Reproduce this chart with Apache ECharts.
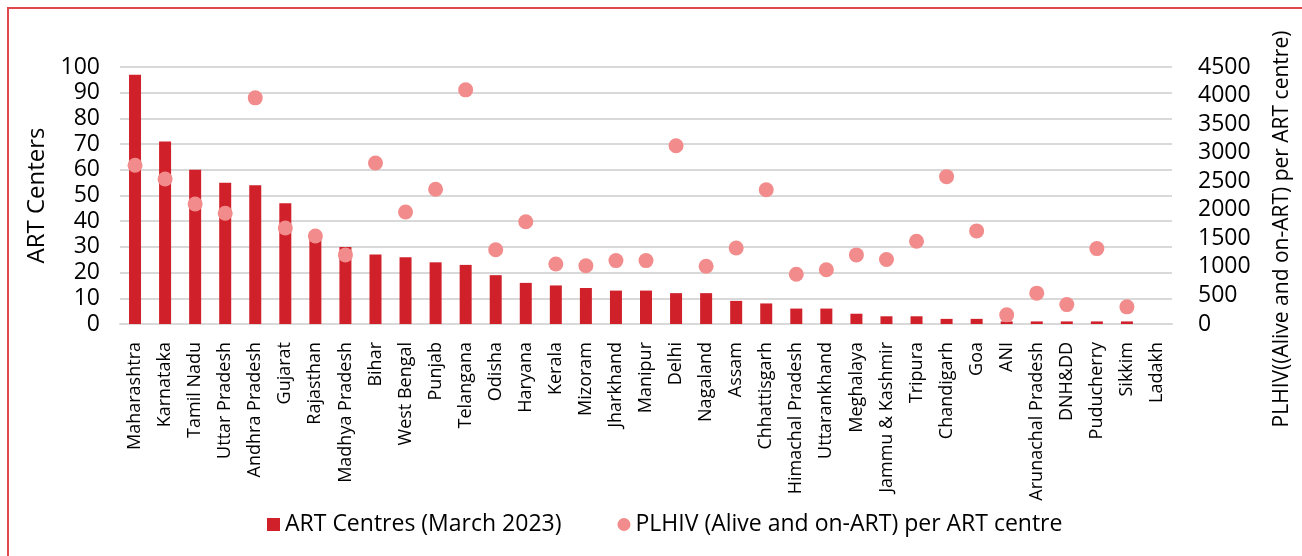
<!DOCTYPE html>
<html>
<head>
<meta charset="utf-8">
<script src="https://cdn.jsdelivr.net/npm/echarts@6/dist/echarts.min.js"></script>
<style>
  html, body { margin: 0; padding: 0; background: #fff; }
  #frame { position: absolute; left: 7px; top: 7px; width: 1310px; height: 560px;
           border-left: 2px solid #E0474F; border-top: 2px solid #E0474F; box-sizing: border-box; }
  #chart { position: absolute; left: 0; top: 0; width: 1302px; height: 556px; }
</style>
</head>
<body>
<div id="frame"></div>
<div id="chart"></div>
<script>
// States / UTs in descending order of ART centres
const states = ['Maharashtra', 'Karnataka', 'Tamil Nadu', 'Uttar Pradesh', 'Andhra Pradesh', 'Gujarat',
  'Rajasthan', 'Madhya Pradesh', 'Bihar', 'West Bengal', 'Punjab', 'Telangana', 'Odisha', 'Haryana',
  'Kerala', 'Mizoram', 'Jharkhand', 'Manipur', 'Delhi', 'Nagaland', 'Assam', 'Chhattisgarh',
  'Himachal Pradesh', 'Uttarankhand', 'Meghalaya', 'Jammu & Kashmir', 'Tripura', 'Chandigarh', 'Goa',
  'ANI', 'Arunachal Pradesh', 'DNH&DD', 'Puducherry', 'Sikkim', 'Ladakh'];

// Number of ART centres, March 2023
const artCentres = [97, 71, 60, 55, 54, 47, 35, 30, 27, 26, 24, 23, 19, 16, 15, 14, 13, 13, 12, 12,
  9, 8, 6, 6, 4, 3, 3, 2, 2, 1, 1, 1, 1, 1, 0];

// PLHIV (alive and on ART) per ART centre
const plhivPerCentre = [2780, 2540, 2100, 1940, 3960, 1680, 1540, 1210, 2820, 1960, 2360, 4100, 1300,
  1790, 1050, 1020, 1110, 1110, 3120, 1010, 1330, 2350, 870, 950, 1210, 1130, 1450, 2580, 1630,
  160, 540, 340, 1320, 300, null];

const leftTicks = { min: 0, max: 100, interval: 10 };
const rightTicks = { min: 0, max: 4500, interval: 500 };

const FONT = '"Open Sans", "Noto Sans", sans-serif';
const chart = echarts.init(document.getElementById('chart'), null, { renderer: 'canvas' });

chart.setOption({
  animation: false,
  backgroundColor: 'transparent',
  grid: { left: 120, right: 130, top: 67, bottom: 232, containLabel: false },
  legend: {
    left: 262, top: 508,
    itemGap: 56,
    itemWidth: 13, itemHeight: 13,
    textStyle: { fontFamily: FONT, fontSize: 23, color: '#000' },
    data: [
      { name: 'ART Centres (March 2023)', icon: 'rect' },
      { name: 'PLHIV (Alive and on-ART) per ART centre', icon: 'circle' }
    ]
  },
  xAxis: {
    type: 'category',
    data: states,
    axisLine: { show: true, lineStyle: { color: '#d9d9d9', width: 2 } },
    axisTick: { show: false },
    axisLabel: { rotate: 90, interval: 0, margin: 18, fontFamily: FONT, fontSize: 18, color: '#000' }
  },
  yAxis: [
    {
      type: 'value', position: 'left',
      min: leftTicks.min, max: leftTicks.max, interval: leftTicks.interval,
      name: 'ART Centers', nameLocation: 'middle', nameGap: 70, nameRotate: 90,
      nameTextStyle: { fontFamily: FONT, fontSize: 24, color: '#000' },
      axisLine: { show: false }, axisTick: { show: false },
      axisLabel: { margin: 20, fontFamily: FONT, fontSize: 23, color: '#000' },
      splitLine: { show: true, lineStyle: { color: '#d9d9d9', width: 2 } }
    },
    {
      type: 'value', position: 'right',
      min: rightTicks.min, max: rightTicks.max, interval: rightTicks.interval,
      axisLine: { show: false }, axisTick: { show: false },
      axisLabel: { margin: 26, fontFamily: FONT, fontSize: 23, color: '#000', formatter: v => String(v) },
      splitLine: { show: false }
    }
  ],
  graphic: [{
    type: 'text',
    x: 1282, y: 229,
    rotation: Math.PI / 2,
    style: {
      text: 'PLHIV((Alive and on-ART) per ART centre)',
      fontFamily: FONT, fontSize: 21, fill: '#000',
      align: 'center', verticalAlign: 'middle'
    }
  }],
  series: [
    {
      name: 'ART Centres (March 2023)',
      type: 'bar',
      yAxisIndex: 0,
      data: artCentres,
      barWidth: 12,
      itemStyle: { color: '#D0202A' }
    },
    {
      name: 'PLHIV (Alive and on-ART) per ART centre',
      type: 'scatter',
      yAxisIndex: 1,
      data: plhivPerCentre,
      symbol: 'circle',
      symbolSize: 15,
      itemStyle: { color: '#F28C8C', opacity: 1 }
    }
  ]
});
</script>
</body>
</html>
